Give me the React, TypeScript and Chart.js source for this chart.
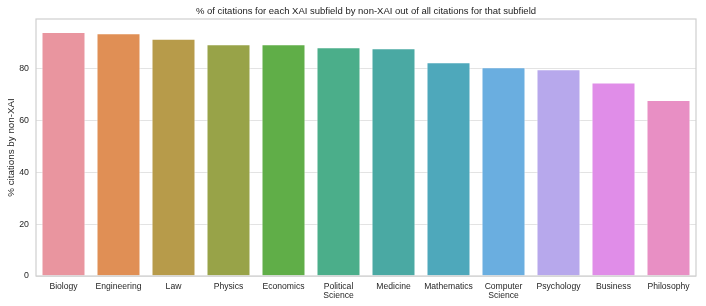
import React, { useEffect, useRef } from "react";
import { Chart, registerables } from "chart.js";

Chart.register(...registerables);

const categories: (string | string[])[] = [
  "Biology",
  "Engineering",
  "Law",
  "Physics",
  "Economics",
  ["Political", "Science"],
  "Medicine",
  "Mathematics",
  ["Computer", "Science"],
  "Psychology",
  "Business",
  "Philosophy",
];

const values: number[] = [94.0, 93.5, 91.4, 89.3, 89.3, 88.1, 87.7, 82.3, 80.4, 79.6, 74.5, 67.8];

const barColors: string[] = [
  "#e9959f",
  "#e08f55",
  "#b79b4a",
  "#98a348",
  "#60ae48",
  "#4bae8a",
  "#4aa9a3",
  "#4ea8bb",
  "#6aaee0",
  "#b7a8ec",
  "#e08de8",
  "#e88fc4",
];

const yTicks: number[] = [0, 20, 40, 60, 80];

const titleText = "% of citations for each XAI subfield by non-XAI out of all citations for that subfield";
const yTitle = "% citations by non-XAI";

const FONT = "'Liberation Sans', Arial, Helvetica, sans-serif";

const framePlugin = {
  id: "frame",
  afterDraw(chart: any) {
    const { ctx, chartArea } = chart;
    ctx.save();
    ctx.strokeStyle = "#cfcfcf";
    ctx.lineWidth = 1.2;
    ctx.strokeRect(chartArea.left, chartArea.top, chartArea.right - chartArea.left, chartArea.bottom - chartArea.top);
    ctx.fillStyle = "#222";
    ctx.font = `9.5px ${FONT}`;
    ctx.textAlign = "center";
    ctx.textBaseline = "middle";
    ctx.fillText(titleText, (chartArea.left + chartArea.right) / 2, 11);
    ctx.restore();
  },
};

export default function App() {
  const ref = useRef<HTMLCanvasElement | null>(null);
  useEffect(() => {
    document.body.style.margin = "0";
    if (!ref.current) return;
    const chart = new Chart(ref.current, {
      type: "bar",
      data: {
        labels: categories,
        datasets: [
          {
            data: values,
            backgroundColor: barColors,
            borderColor: "rgba(255,255,255,0.7)",
            borderWidth: 1,
            barPercentage: 0.8,
            categoryPercentage: 1,
          },
        ],
      },
      options: {
        responsive: false,
        animation: false,
        layout: { padding: { left: 0, right: 10, top: 19, bottom: 0 } },
        plugins: {
          legend: { display: false },
          tooltip: { enabled: false },
          title: { display: false },
        },
        scales: {
          x: {
            offset: true,
            grid: { display: false, drawTicks: false },
            border: { display: false },
            ticks: {
              color: "#262626",
              font: { family: FONT, size: 8.6, lineHeight: 1.05 },
              padding: 6,
              maxRotation: 0,
              autoSkip: false,
            },
            afterFit(scale: any) {
              scale.height = 30;
            },
          },
          y: {
            min: 0,
            max: 99,
            grid: { color: "#e3e3e3", lineWidth: 1, drawTicks: false },
            border: { display: false },
            ticks: {
              stepSize: 20,
              color: "#262626",
              font: { family: FONT, size: 8.8 },
              padding: 7,
            },
            afterBuildTicks(scale: any) {
              scale.ticks = yTicks.map((v) => ({ value: v }));
            },
            title: {
              display: true,
              text: yTitle,
              color: "#262626",
              font: { family: FONT, size: 9.8 },
              padding: { top: 5.5, bottom: 0 },
            },
            afterFit(scale: any) {
              scale.width = 36;
            },
          },
        },
      },
      plugins: [framePlugin],
    });
    return () => chart.destroy();
  }, []);
  return <canvas ref={ref} width={706} height={306} style={{ display: "block" }} />;
}
